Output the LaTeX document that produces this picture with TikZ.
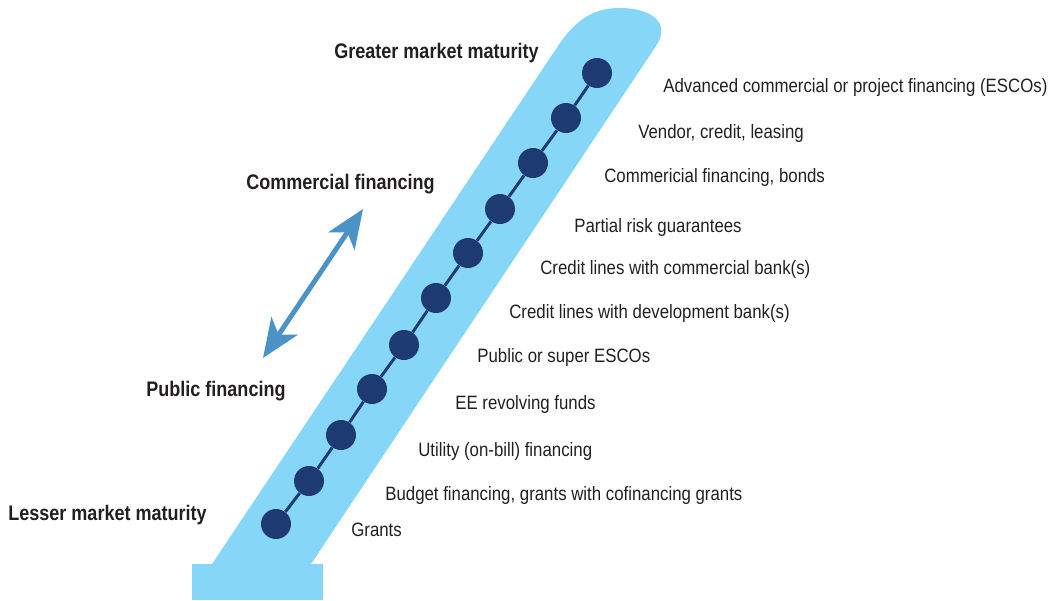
\documentclass[tikz,border=0pt]{standalone}
\usepackage{fontspec}
\usetikzlibrary{arrows.meta}
\newfontfamily\labelfont[FakeStretch=0.87]{Liberation Sans}
\newfontfamily\headfont[FakeStretch=0.855]{Liberation Sans}
\definecolor{bandblue}{HTML}{86D6F7}
\definecolor{dotnavy}{HTML}{1E3A72}
\definecolor{arrowblue}{HTML}{4B93C6}
\definecolor{textgray}{HTML}{231F20}
\tikzset{
  stage/.style={circle, fill=dotnavy, minimum size=0.6cm, inner sep=0pt},
  stagelink/.style={dotnavy, line width=1.7pt},
  stagelabel/.style={anchor=base west, inner sep=0pt, text=textgray, font=\labelfont\fontsize{11}{13}\selectfont},
  headlabel/.style={anchor=base west, inner sep=0pt, text=textgray, font=\headfont\bfseries\fontsize{12}{14}\selectfont},
  finarrow/.style={arrowblue, line width=2.8pt, {Stealth[length=22pt, width=18pt, inset=6pt]}-{Stealth[length=22pt, width=18pt, inset=6pt]}}
}
\begin{document}
\begin{tikzpicture}[x=0.02cm, y=-0.02cm]
    \useasboundingbox (0,0) rectangle (1055,600);
    \fill[bandblue] (192,564) rectangle (323,600);
    \fill[bandblue] (212,564) -- (560,43) .. controls (580,14) and (600,8) .. (620,8)
        .. controls (650,8) and (672,22) .. (656,46) -- (311,564) -- cycle;
    \foreach \x/\y/\lx/\ly/\txt [count=\i] in {
        276/524/351/536/{Grants},
        309/481/385/500/{Budget financing, grants with cofinancing grants},
        341/435/418/456/{Utility (on-bill) financing},
        372/389/455/409/{EE revolving funds},
        404/345/477/362/{Public or super ESCOs},
        436/298/509/318/{Credit lines with development bank(s)},
        468/253/540/274/{Credit lines with commercial bank(s)},
        500/209/574/232/{Partial risk guarantees},
        533/163/604/182/{Commericial financing, bonds},
        566/118/638/138/{Vendor, credit, leasing},
        597/73/663/92/{Advanced commercial or project financing (ESCOs)}}{
        \node[stage] (d\i) at (\x,\y) {};
        \node[stagelabel] (l\i) at (\lx,\ly) {\txt};
    }
    \foreach \i [evaluate=\i as \j using int(\i+1)] in {1,...,10}
        \draw[stagelink] (d\i) -- (d\j);
    \node[headlabel] (greater) at (334,58) {Greater market maturity};
    \node[headlabel] (commercial) at (246,189) {Commercial financing};
    \node[headlabel] (public) at (146,396) {Public financing};
    \node[headlabel] (lesser) at (8,520) {Lesser market maturity};
    \coordinate (pubtip) at (263,358);
    \coordinate (comtip) at (363,209);
    \draw[finarrow] (pubtip) -- (comtip);
\end{tikzpicture}
\end{document}
